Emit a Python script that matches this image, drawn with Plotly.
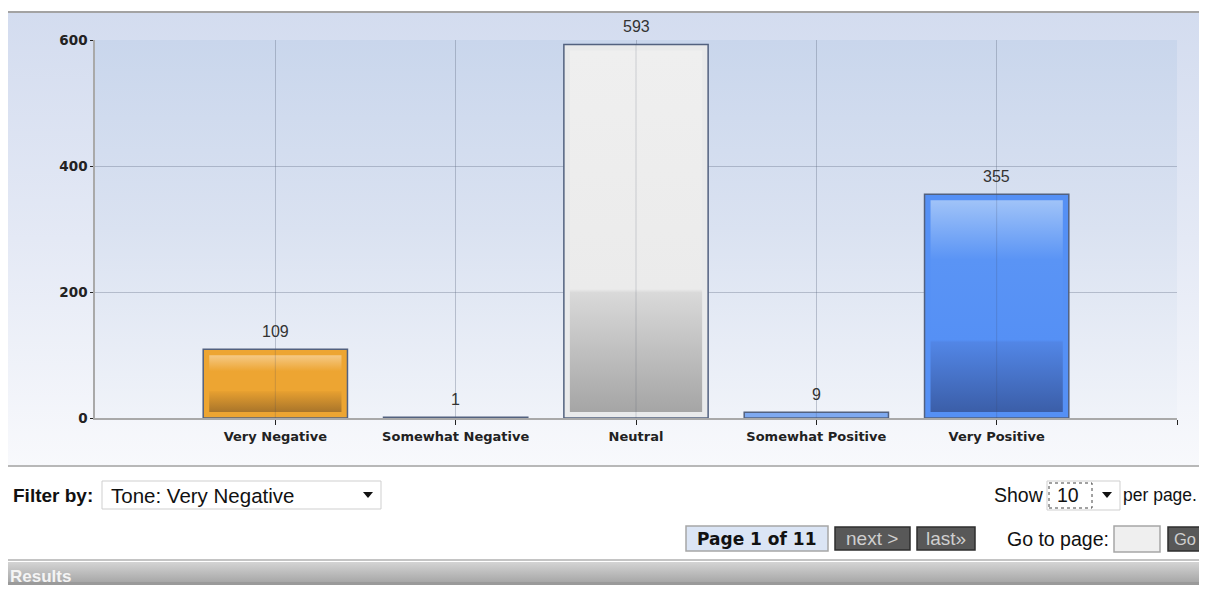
#! env python

import base64

import plotly.graph_objects as go

# chart data
categories = ['Very Negative', 'Somewhat Negative', 'Neutral',
              'Somewhat Positive', 'Very Positive']
counts = [109, 1, 593, 9, 355]
ytickvals = [0, 200, 400, 600]

# page controls under the chart
filterlabel = 'Filter by:'
filtertext = 'Tone: Very Negative'
perpage = '10'
pagetext = 'Page 1 of 11'

# bar styling: band colour and inner gradient (bottom -> top)
barcolors = ['#eda532', '#f0b552', '#e9eaeb', '#7ea9f0', '#5590f5']
innerscales = [
    [[0, '#a9752a'], [0.36, '#e69f30'], [0.37, '#eda532'], [0.72, '#eda532'], [1, '#f5c985']],
    None,
    [[0, '#a5a5a5'], [0.33, '#d9d9d9'], [0.34, '#ebebeb'], [1, '#efefef']],
    None,
    [[0, '#3b5ea8'], [0.33, '#5286e6'], [0.34, '#5590f5'], [0.72, '#5a94f5'], [1, '#a0c3f8']],
]

# the page body adds an 8px margin round the figure; keep it inside the window
OFF = 8
PAGEW, PAGEH = 1207, 593
W, H = PAGEW - 2 * OFF, PAGEH - 2 * OFF
PL, PR, PT, PB = 95, 1177, 40, 418      # plot area in window pixels
L, R, T, B = PL - OFF, OFF + W - PR, PT - OFF, OFF + H - PB
PW = PR - PL
PH = PB - PT
RIGHT = OFF + W                          # last visible window pixel

UIFONT = 'Liberation Sans, Arial, sans-serif'
AXFONT = 'DejaVu Sans, Tahoma, sans-serif'


def xp(px):
    """ window pixel x -> paper x """
    return (px - PL) / PW


def yp(py):
    """ window pixel y (from top) -> paper y """
    return (PB - py) / PH


def graduri(stops):
    """ vertical svg gradient as a data uri, stops top -> bottom """
    s = ''.join('<stop offset="%s" stop-color="%s"/>' % (o, c) for o, c in stops)
    svg = ('<svg xmlns="http://www.w3.org/2000/svg" width="10" height="100" '
           'viewBox="0 0 10 100" preserveAspectRatio="none"><defs>'
           '<linearGradient id="g" x1="0" y1="0" x2="0" y2="1">%s</linearGradient>'
           '</defs><rect width="10" height="100" fill="url(#g)"/></svg>' % s)
    return 'data:image/svg+xml;base64,' + base64.b64encode(svg.encode()).decode()


def bgimage(x0, y0, x1, y1, stops):
    return dict(source=graduri(stops), xref='paper', yref='paper',
                x=xp(x0), y=yp(y0), sizex=xp(x1) - xp(x0), sizey=yp(y0) - yp(y1),
                xanchor='left', yanchor='top', sizing='stretch', layer='below')


def rect(x0, y0, x1, y1, fill, line=None, lw=1, dash=None):
    return dict(type='rect', xref='paper', yref='paper', layer='above',
                x0=xp(x0), x1=xp(x1), y0=yp(y1), y1=yp(y0), fillcolor=fill,
                line=dict(color=line or fill, width=lw if line else 0, dash=dash))


def hline(x0, x1, y, color, lw=1):
    return dict(type='line', xref='paper', yref='paper', layer='above',
                x0=xp(x0), x1=xp(x1), y0=yp(y), y1=yp(y), line=dict(color=color, width=lw))


def arrow(cx, cy):
    path = 'M %f %f L %f %f L %f %f Z' % (xp(cx - 5), yp(cy - 3), xp(cx + 5), yp(cy - 3),
                                          xp(cx), yp(cy + 3))
    return dict(type='path', xref='paper', yref='paper', path=path, layer='above',
                fillcolor='#111', line=dict(width=0))


def label(x, y, text, size=19, color='#111', bold=False, xanchor='left', family=UIFONT):
    return dict(xref='paper', yref='paper', x=xp(x), y=yp(y), text=text, showarrow=False,
                xanchor=xanchor, yanchor='middle',
                font=dict(family=family, size=size, color=color,
                          weight='bold' if bold else 'normal'))


def main():
    fig = go.Figure()
    xs = list(range(len(categories)))

    fig.add_trace(go.Bar(
        x=xs, y=counts, width=0.8, hovertext=categories,
        marker=dict(color=barcolors, line=dict(color='#52617f', width=1.5)),
        showlegend=False,
    ))

    # inner gradient of the bigger bars, inset from the bar edges
    upx = (len(categories) + 1) / PW
    upy = 600 / PH
    for i, v in enumerate(counts):
        if innerscales[i] is None or v < 40:
            continue
        x0 = i - 0.4 + 6 * upx
        x1 = i + 0.4 - 6 * upx
        y0 = 6 * upy
        y1 = v - 6 * upy
        fig.add_trace(go.Scatter(
            x=[x0, x1, x1, x0, x0], y=[y0, y0, y1, y1, y0], mode='lines',
            fill='toself', fillgradient=dict(type='vertical', colorscale=innerscales[i]),
            line=dict(width=0), hoverinfo='skip', showlegend=False,
        ))

    shapes = []
    annotations = []

    # faint grid line that shows through the bars
    for i, v in enumerate(counts):
        shapes.append(dict(type='line', xref='x', yref='y', x0=i, x1=i, y0=0, y1=v,
                           layer='above', line=dict(color='rgba(60,70,95,0.2)', width=1)))
        annotations.append(dict(x=i, y=v, text=str(v), showarrow=False, yanchor='middle',
                                yshift=18, font=dict(family=UIFONT, size=16, color='#333')))

    images = [
        bgimage(8, 12, RIGHT, 466, [(0, '#d3dcef'), (0.5, '#e4e9f5'), (1, '#f8f9fc')]),
        bgimage(PL, PT, PR, PB, [(0, '#c9d6ec'), (0.5, '#dae2f1'), (1, '#f0f3f9')]),
        bgimage(8, 562, RIGHT, 582, [(0, '#d4d4d4'), (1, '#a8a8a8')]),
        bgimage(8, 582, RIGHT, PAGEH, [(0, '#9a9a9a'), (1, '#9a9a9a')]),
    ]

    # panel borders
    shapes.append(hline(8, RIGHT, 12, '#a3a3a3', 2))
    shapes.append(hline(8, RIGHT, 466, '#b8b8b8', 2))
    shapes.append(hline(8, RIGHT, 560, '#c4c4c4', 2))

    # filter dropdown
    annotations.append(label(11, 495, filterlabel, size=19, bold=True))
    shapes.append(rect(102, 481, 381, 509, 'white', '#cfcfcf'))
    annotations.append(label(109, 495, filtertext, size=20.5))
    shapes.append(arrow(368, 495))

    # per page selector
    annotations.append(label(992, 495, 'Show', size=19.5))
    shapes.append(rect(1047, 481, 1120, 510, 'white', '#cfcfcf'))
    shapes.append(rect(1049, 483, 1092, 508, 'rgba(0,0,0,0)', '#444', 1, 'dot'))
    annotations.append(label(1055, 495, perpage, size=19.5))
    shapes.append(arrow(1107, 495))
    annotations.append(label(RIGHT, 495, 'per page.', size=17.5, xanchor='right'))

    # pager
    shapes.append(rect(686, 526, 828, 551, '#dbe5f5', '#a6a6a6', 1.5))
    annotations.append(label(757, 539, pagetext, size=17, bold=True, xanchor='center',
                             family=AXFONT))
    shapes.append(rect(835, 527, 910, 550, '#585858', '#2e2e2e', 1.5))
    annotations.append(label(872, 538, 'next &gt;', size=19, color='#cfcfcf', xanchor='center'))
    shapes.append(rect(917, 527, 975, 550, '#585858', '#2e2e2e', 1.5))
    annotations.append(label(946, 538, 'last»', size=19, color='#cfcfcf', xanchor='center'))
    annotations.append(label(1005, 539, 'Go to page:', size=19.5))
    shapes.append(rect(1114, 526, 1160, 552, '#efefef', '#a6a6a6', 1.5))
    shapes.append(rect(1168, 527, RIGHT + 4, 551, '#585858', '#2e2e2e', 1.5))
    annotations.append(label(RIGHT - 1, 539, 'Go', size=16.5, color='#cfcfcf', xanchor='right'))

    # results bar
    annotations.append(label(8, 576, 'Results', size=17, color='#f4f4f4', bold=True))

    gridcolor = 'rgba(95,105,130,0.35)'
    fig.update_layout(
        width=W, height=H,
        margin=dict(l=L, r=R, t=T, b=B, pad=0),
        paper_bgcolor='white', plot_bgcolor='rgba(0,0,0,0)',
        bargap=0.2,
        xaxis=dict(
            range=[-1, len(categories)], tickvals=list(range(len(categories) + 1)),
            ticktext=categories + [''], showgrid=True, gridcolor=gridcolor, gridwidth=1,
            showline=True, linecolor='#a9a9a9', linewidth=2, zeroline=False,
            ticks='outside', ticklen=5, tickcolor='#222', fixedrange=True,
            tickfont=dict(family=AXFONT, size=13, color='#222', weight='bold'),
        ),
        yaxis=dict(
            range=[0, 600], tickvals=ytickvals, showgrid=True, gridcolor=gridcolor,
            gridwidth=1, showline=True, linecolor='#a9a9a9', linewidth=1.5, zeroline=False,
            ticks='outside', ticklen=3, tickcolor='#222', fixedrange=True,
            tickfont=dict(family=AXFONT, size=13.5, color='#222', weight='bold'),
        ),
        shapes=shapes, annotations=annotations, images=images,
        hovermode='closest',
    )

    fig.write_html('out.html')


if __name__ == '__main__':
    main()
